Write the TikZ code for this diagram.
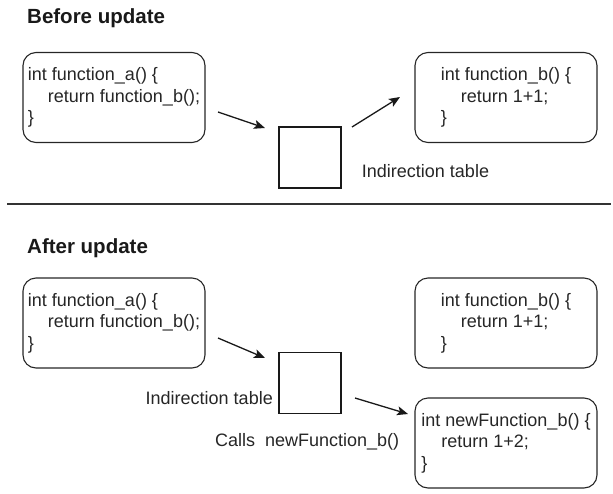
\documentclass[tikz,border=0pt]{standalone}
\usepackage{fontspec}
\setmainfont{Liberation Sans}
\usetikzlibrary{arrows.meta}
\begin{document}
\begin{tikzpicture}[x=1pt,y=-1pt,
  txt/.style={font=\fontsize{18}{21.5}\selectfont, text=black!85, inner sep=0pt},
  head/.style={font=\fontsize{20.5}{24}\selectfont\bfseries, text=black!90, inner sep=0pt, anchor=west},
  codebox/.style={txt, draw=black!85, line width=1.1pt, rounded corners=13pt,
    minimum width=182pt, minimum height=90pt, align=left},
  tablebox/.style={draw=black!90, line width=1.1pt, minimum width=62pt, minimum height=61pt, inner sep=0pt},
  conn/.style={line width=1.3pt, draw=black!90, -{Stealth[length=11pt,width=9pt,inset=2.5pt]}},
  sep/.style={line width=1.2pt, draw=black!80}
]
\useasboundingbox (0,0) rectangle (613,493);

% ---------- Before update ----------
\node[head] (h1) at (27,18) {Before update};
\node[codebox] (a1) at (114,97.5) {int function\_a() \{\\\hspace*{20pt}return function\_b();\\\}};
\node[tablebox] (t1) at (310,157.5) {};
\node[codebox] (b1) at (506,97.5) {int function\_b() \{\\\hspace*{20pt}return 1+1;\\\}};
\node[txt] (l1) at (425.5,171) {Indirection table};

\coordinate (p1s) at (218,112);
\coordinate (p1e) at (265,128);
\coordinate (p2s) at (352,127);
\coordinate (p2e) at (400,97);
\draw[conn] (p1s) -- (p1e);
\draw[conn] (p2s) -- (p2e);

% separator
\coordinate (s1) at (7,204);
\coordinate (s2) at (611,204);
\draw[sep] (s1) -- (s2);

% ---------- After update ----------
\node[head] (h2) at (27,248) {After update};
\node[codebox] (a2) at (114,323) {int function\_a() \{\\\hspace*{20pt}return function\_b();\\\}};
\node[tablebox] (t2) at (310,383) {};
\node[codebox] (b2) at (506,323) {int function\_b() \{\\\hspace*{20pt}return 1+1;\\\}};
\node[codebox] (n2) at (506,443) {int newFunction\_b() \{\\\hspace*{20pt}return 1+2;\\\}};
\node[txt, anchor=east] (l2) at (273,398) {Indirection table};
\node[txt, anchor=west] (c2) at (215,442) {Calls\ \ newFunction\_b()};

\coordinate (q1s) at (218,338);
\coordinate (q1e) at (265,358);
\coordinate (q2s) at (355,398);
\coordinate (q2e) at (408,414);
\draw[conn] (q1s) -- (q1e);
\draw[conn] (q2s) -- (q2e);
\end{tikzpicture}
\end{document}
